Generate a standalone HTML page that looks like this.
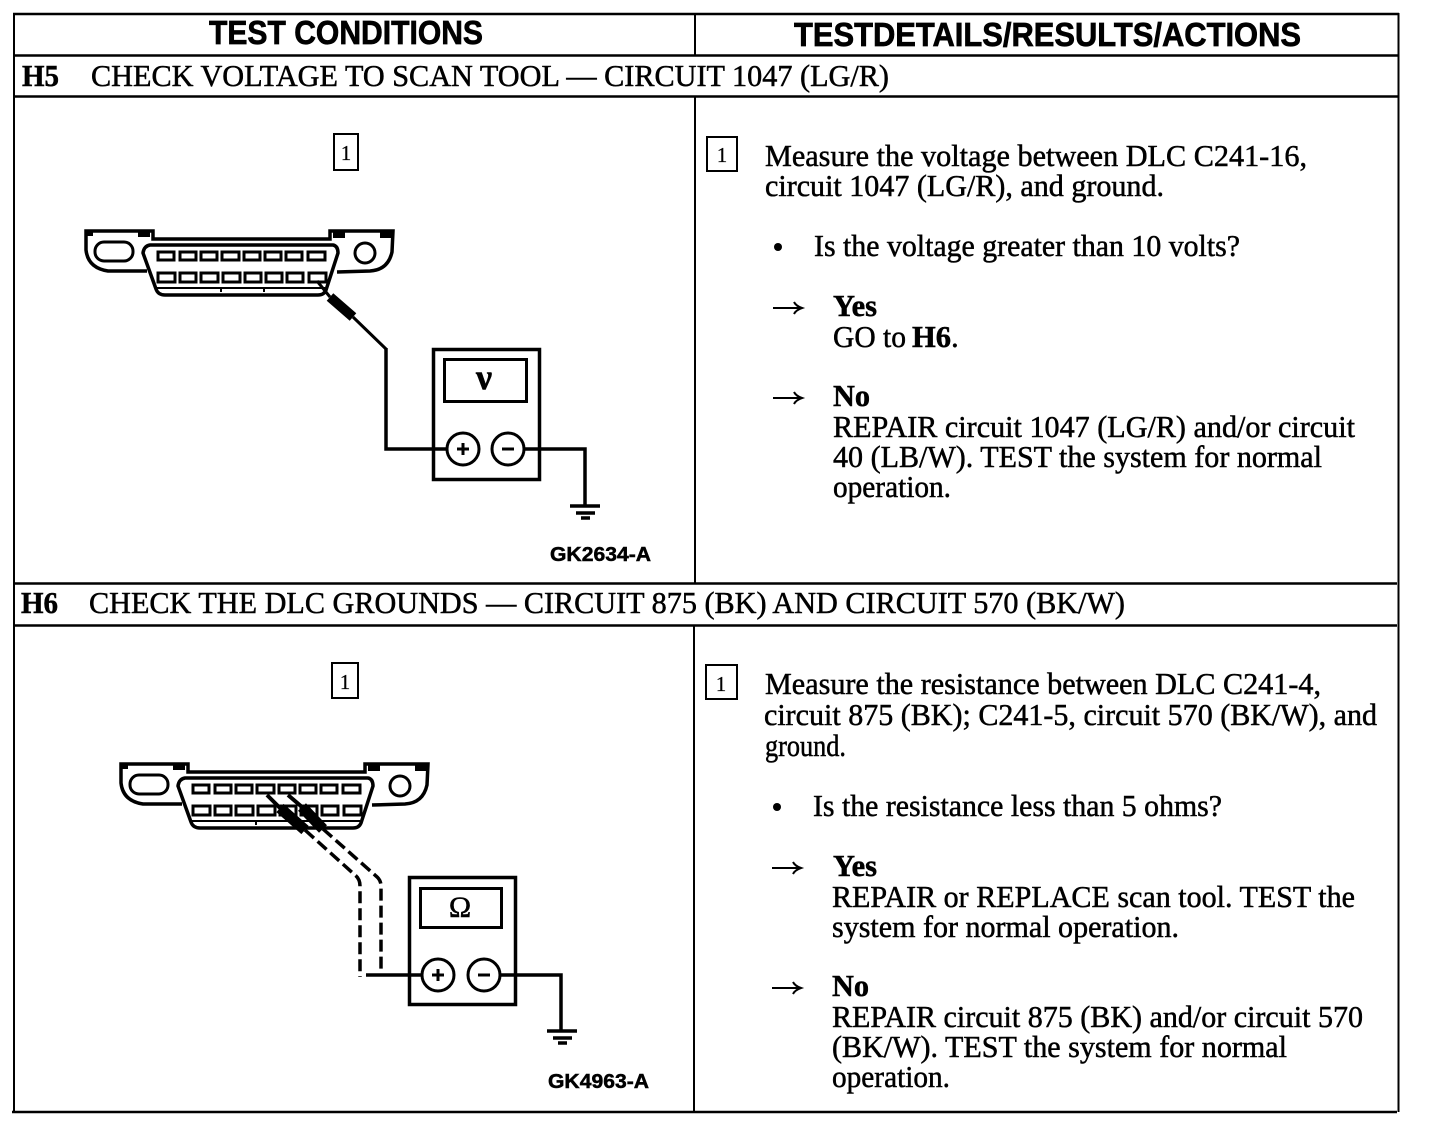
<!DOCTYPE html>
<html><head><meta charset="utf-8"><style>
html,body{margin:0;padding:0;background:#fff}
svg{display:block}
text{font-family:"Liberation Serif",serif;font-size:31px;fill:#000;stroke:#000;stroke-width:.5;white-space:pre}
.h{font-family:"Liberation Sans",sans-serif;font-size:33px;font-weight:700;stroke-width:.7}
.b{font-weight:700}
.c{font-family:"Liberation Sans",sans-serif;font-size:20px;font-weight:700;stroke-width:.5}
.n{font-size:21px;stroke-width:.2;text-anchor:middle}
.l{fill:none;stroke:#000;stroke-width:2}
.p{fill:none;stroke:#000;stroke-width:3}
.w{fill:none;stroke:#000;stroke-width:3.5}
</style></head><body>
<svg width="1440" height="1128" viewBox="0 0 1440 1128" xmlns="http://www.w3.org/2000/svg">
<defs>
<g id="dlc">
<path class="w" d="M147 271H108Q88 268 86 250V231H153V239H330V231H393L392 252Q388 270 370 271L337 272"/>
<path class="w" d="M150 245H333Q338 246 338 253L326 290Q324 295 318 295H165Q158 295 156 289L143 253Q144 246 150 245Z" fill="#fff"/>
<path class="l" d="M157 288H325M221 288V292M264 288V292"/>
<rect x="95" y="242" width="38" height="19" rx="9" class="p"/>
<circle cx="365" cy="253" r="10" class="p"/>
<path fill="#000" d="M87 231h6v5h-6zM138 231h12v6h-12zM333 232h12v6h-12zM380 232h12v6h-12z"/>
<g class="p">
<rect x="158" y="252" width="16" height="8"/><rect x="180" y="252" width="16" height="8"/><rect x="201" y="252" width="16" height="8"/><rect x="222" y="252" width="17" height="8"/><rect x="244" y="252" width="16" height="8"/><rect x="265" y="252" width="16" height="8"/><rect x="286" y="252" width="16" height="8"/><rect x="308" y="252" width="17" height="8"/>
<rect x="158" y="273" width="17" height="9"/><rect x="180" y="273" width="16" height="9"/><rect x="201" y="273" width="17" height="9"/><rect x="223" y="273" width="17" height="9"/><rect x="245" y="273" width="16" height="9"/><rect x="266" y="273" width="16" height="9"/><rect x="287" y="273" width="16" height="9"/><rect x="309" y="273" width="17" height="9"/>
</g>
</g>
<g id="arr"><path d="M0 0H28M21 -6Q23 -2 29 0Q23 2 21 6" fill="none" stroke="#000" stroke-width="2"/></g>
<g id="gnd"><path d="M0 0H30M6 7H25M11 12H20" stroke="#000" stroke-width="3.5" fill="none"/></g>
</defs>

<!-- table frame -->
<g stroke="#000" fill="none">
<path stroke-width="2.5" d="M13 14H1399M13 55.500H1399M13 96.500H1398M13 583.500H1397M13 625.500H1397M12 1112H1397"/>
<path stroke-width="2" d="M14 13V1112M1398.500 13V1112M695 14V55M695 97V583M694 626V1112"/>
</g>

<!-- headings -->
<text class="h" x="209" y="44" textLength="274" lengthAdjust="spacingAndGlyphs">TEST CONDITIONS</text>
<text class="h" x="794" y="46" textLength="507" lengthAdjust="spacingAndGlyphs">TESTDETAILS/RESULTS/ACTIONS</text>
<text class="b" x="22" y="86" textLength="37" lengthAdjust="spacingAndGlyphs">H5</text>
<text x="91" y="86" textLength="798" lengthAdjust="spacingAndGlyphs">CHECK VOLTAGE TO SCAN TOOL — CIRCUIT 1047 (LG/R)</text>
<text class="b" x="21" y="613" textLength="37" lengthAdjust="spacingAndGlyphs">H6</text>
<text x="89" y="613" textLength="1036" lengthAdjust="spacingAndGlyphs">CHECK THE DLC GROUNDS — CIRCUIT 875 (BK) AND CIRCUIT 570 (BK/W)</text>

<!-- step boxes -->
<g class="l">
<rect x="334" y="134" width="24" height="36"/><rect x="707" y="137" width="30" height="34"/>
<rect x="332" y="663" width="26" height="35"/><rect x="706" y="665" width="31" height="34"/>
</g>
<text class="n" x="346" y="160">1</text><text class="n" x="722" y="162">1</text>
<text class="n" x="345" y="689">1</text><text class="n" x="721" y="691">1</text>

<!-- H5 diagram -->
<use href="#dlc"/>
<path class="p" d="M317 281L330 297M353 317L386 349"/>
<path d="M330 297L353 317" stroke="#000" stroke-width="10" fill="none"/>
<path class="w" d="M386 348V449H447M524 449H585V505"/>
<rect x="433.500" y="349.500" width="106" height="130" class="w"/>
<rect x="444.500" y="359.500" width="82" height="42" class="p"/>
<circle cx="463" cy="449" r="16" fill="#fff" stroke="#000" stroke-width="3"/>
<circle cx="508" cy="449" r="16" fill="#fff" stroke="#000" stroke-width="3"/>
<path d="M457 449H469M463 443V455M502 449H514" stroke="#000" stroke-width="3"/>
<text class="b" x="484" y="389" text-anchor="middle" style="font-size:36px">ν</text>
<use href="#gnd" x="570" y="506"/>
<text class="c" x="550" y="561" textLength="101" lengthAdjust="spacingAndGlyphs">GK2634-A</text>

<!-- H6 diagram -->
<use href="#dlc" x="35" y="533"/>
<path d="M267 795L280 808M288 795L302 807" fill="none" stroke="#000" stroke-width="4"/>
<path d="M280 808L305 830M302 807L323 829" stroke="#000" stroke-width="11" fill="none"/>
<path d="M305 830L355 875Q360 879 360 886V977" fill="none" stroke="#000" stroke-width="3.500" stroke-dasharray="12 5"/>
<path d="M323 829L376 876Q381 880 381 886V973" fill="none" stroke="#000" stroke-width="3.500" stroke-dasharray="12 5"/>
<path class="w" d="M366 975H424M500 975H561V1030"/>
<rect x="409.500" y="877.500" width="106" height="127" class="w"/>
<rect x="420.500" y="888.500" width="81" height="39" class="p"/>
<circle cx="438" cy="975" r="16" fill="#fff" stroke="#000" stroke-width="3"/>
<circle cx="484" cy="975" r="16" fill="#fff" stroke="#000" stroke-width="3"/>
<path d="M432 975H444M438 969V981M478 975H490" stroke="#000" stroke-width="3"/>
<text x="460" y="917" text-anchor="middle" style="font-size:30px">Ω</text>
<use href="#gnd" x="547" y="1031"/>
<text class="c" x="548" y="1088" textLength="101" lengthAdjust="spacingAndGlyphs">GK4963-A</text>

<!-- H5 text -->
<text x="765" y="166" textLength="542" lengthAdjust="spacingAndGlyphs">Measure the voltage between DLC C241-16,</text>
<text x="765" y="196" textLength="399" lengthAdjust="spacingAndGlyphs">circuit 1047 (LG/R), and ground.</text>
<circle cx="778" cy="247" r="4"/>
<text x="814" y="256" textLength="426" lengthAdjust="spacingAndGlyphs">Is the voltage greater than 10 volts?</text>
<use href="#arr" x="773" y="308"/>
<text class="b" x="833" y="316" textLength="44" lengthAdjust="spacingAndGlyphs">Yes</text>
<text x="833" y="347" textLength="73" lengthAdjust="spacingAndGlyphs">GO to</text>
<text class="b" x="912" y="347" textLength="39" lengthAdjust="spacingAndGlyphs">H6</text>
<text x="951" y="347">.</text>
<use href="#arr" x="773" y="398"/>
<text class="b" x="833" y="406" textLength="37" lengthAdjust="spacingAndGlyphs">No</text>
<text x="833" y="437" textLength="522" lengthAdjust="spacingAndGlyphs">REPAIR circuit 1047 (LG/R) and/or circuit</text>
<text x="833" y="467" textLength="489" lengthAdjust="spacingAndGlyphs">40 (LB/W). TEST the system for normal</text>
<text x="833" y="497" textLength="118" lengthAdjust="spacingAndGlyphs">operation.</text>

<!-- H6 text -->
<text x="765" y="694" textLength="556" lengthAdjust="spacingAndGlyphs">Measure the resistance between DLC C241-4,</text>
<text x="764" y="725" textLength="613" lengthAdjust="spacingAndGlyphs">circuit 875 (BK); C241-5, circuit 570 (BK/W), and</text>
<text x="765" y="756" textLength="81" lengthAdjust="spacingAndGlyphs">ground.</text>
<circle cx="777" cy="807" r="4"/>
<text x="813" y="816" textLength="409" lengthAdjust="spacingAndGlyphs">Is the resistance less than 5 ohms?</text>
<use href="#arr" x="772" y="868"/>
<text class="b" x="833" y="876" textLength="44" lengthAdjust="spacingAndGlyphs">Yes</text>
<text x="832" y="907" textLength="523" lengthAdjust="spacingAndGlyphs">REPAIR or REPLACE scan tool. TEST the</text>
<text x="832" y="937" textLength="347" lengthAdjust="spacingAndGlyphs">system for normal operation.</text>
<use href="#arr" x="772" y="988"/>
<text class="b" x="832" y="996" textLength="37" lengthAdjust="spacingAndGlyphs">No</text>
<text x="832" y="1027" textLength="531" lengthAdjust="spacingAndGlyphs">REPAIR circuit 875 (BK) and/or circuit 570</text>
<text x="832" y="1057" textLength="455" lengthAdjust="spacingAndGlyphs">(BK/W). TEST the system for normal</text>
<text x="832" y="1087" textLength="118" lengthAdjust="spacingAndGlyphs">operation.</text>
</svg>
</body></html>
